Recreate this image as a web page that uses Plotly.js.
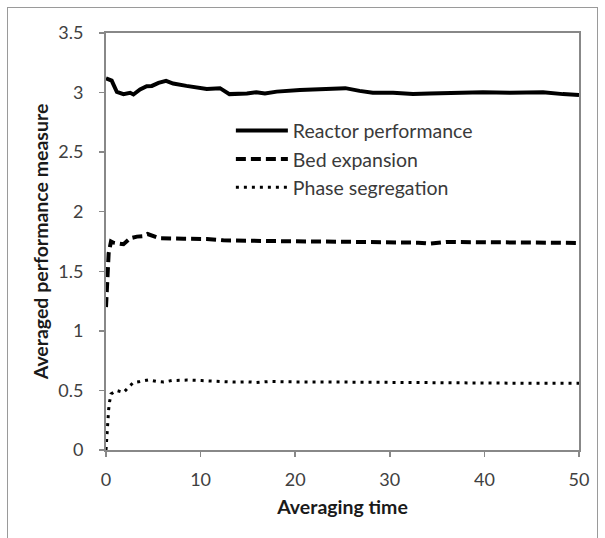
<!DOCTYPE html>
<html>
<head>
<meta charset="utf-8">
<script src="https://cdn.plot.ly/plotly-3.0.1.min.js"></script>
<style>
  html, body { margin: 0; padding: 0; background: #fff; }
  #wrap { position: relative; width: 605px; height: 538px; overflow: hidden; }
  #chart { width: 605px; height: 538px; }
  #frame { position: absolute; left: 7px; top: 7px; width: 591px; height: 540px;
           border: 1px solid #9a9a9a; pointer-events: none; box-sizing: border-box; }
</style>
</head>
<body>
<div id="wrap"><div id="chart"></div><div id="frame"></div></div>
<script>
const reactorX = [0, 0.6, 1.15, 1.85, 2.55, 2.9, 3.6, 4.3, 4.85, 5.55, 6.35, 7.1, 8.5, 9.6, 10.65, 12.05, 12.4, 13.05, 14.9, 15.9, 16.8, 18.05, 20.5, 23, 25.3, 26.8, 28.2, 30.35, 32.45, 34.2, 36.3, 39.85, 42.7, 46.2, 48.3, 50];
const reactorY = [3.12, 3.10, 3.005, 2.987, 2.998, 2.984, 3.026, 3.054, 3.056, 3.081, 3.098, 3.076, 3.056, 3.043, 3.031, 3.037, 3.02, 2.987, 2.992, 3.003, 2.992, 3.008, 3.022, 3.03, 3.037, 3.014, 2.998, 2.998, 2.987, 2.992, 2.998, 3.003, 2.998, 3.003, 2.987, 2.98];

const bedX = [0, 0.1, 0.28, 0.53, 0.8, 1.85, 2.55, 3.27, 3.97, 4.4, 5.0, 5.7, 8.2, 10.65, 12.4, 15.9, 19.1, 25, 30, 33, 34.2, 36, 40, 45, 50];
const bedY = [1.2, 1.455, 1.65, 1.75, 1.74, 1.727, 1.777, 1.791, 1.796, 1.813, 1.796, 1.777, 1.774, 1.771, 1.76, 1.752, 1.752, 1.748, 1.746, 1.74, 1.732, 1.746, 1.744, 1.74, 1.738];

const phaseX = [0, 0.1, 0.17, 0.21, 0.28, 0.38, 0.53, 1.1, 1.85, 2.4, 2.9, 3.6, 4.5, 5.4, 6.1, 6.95, 8.55, 10.1, 11.7, 13.5, 15, 15.9, 17.3, 19.1, 25, 30, 35, 40, 45, 50];
const phaseY = [0.0, 0.14, 0.21, 0.28, 0.34, 0.405, 0.47, 0.5, 0.483, 0.528, 0.567, 0.575, 0.589, 0.575, 0.57, 0.583, 0.587, 0.583, 0.578, 0.57, 0.572, 0.567, 0.575, 0.572, 0.57, 0.566, 0.562, 0.562, 0.56, 0.56];

const seriesNames = ["Reactor performance", "Bed expansion", "Phase segregation"];
const xTitle = "Averaging time";
const yTitle = "Averaged performance measure";

const FONT = "Lato, 'Open Sans', sans-serif";

const traces = [
  {x: reactorX, y: reactorY, name: seriesNames[0], mode: "lines",
   line: {color: "#000", width: 4}},
  {x: bedX, y: bedY, name: seriesNames[1], mode: "lines",
   line: {color: "#000", width: 4, dash: "10px,5px"}},
  {x: phaseX, y: phaseY, name: seriesNames[2], mode: "lines",
   line: {color: "#000", width: 3, dash: "3px,5px"}}
];

const layout = {
  width: 605, height: 538,
  margin: {l: 106, r: 25.5, t: 33, b: 87.5, pad: 0},
  paper_bgcolor: "#fff", plot_bgcolor: "#fff",
  font: {family: FONT, color: "#404040", size: 16},
  showlegend: true,
  legend: {x: 0.264, y: 0.812, xanchor: "left", yanchor: "top",
           bgcolor: "rgba(0,0,0,0)", borderwidth: 0,
           font: {family: FONT, size: 19.5, color: "#3a3a3a"},
           itemwidth: 52, tracegroupgap: 0},
  xaxis: {range: [0, 50], dtick: 10, tick0: 0, showgrid: false, zeroline: false,
          showline: true, linecolor: "#888", linewidth: 2, mirror: true,
          ticks: "outside", ticklen: 5, tickwidth: 1.5, tickcolor: "#888",
          ticklabelstandoff: 7,
          tickfont: {family: FONT, size: 18, color: "#404040"},
          title: {text: "<b>" + xTitle + "</b>", font: {family: FONT, size: 19.5, color: "#1a1a1a"}, standoff: 12}},
  yaxis: {range: [0, 3.5], dtick: 0.5, tick0: 0, showgrid: false, zeroline: false,
          showline: true, linecolor: "#888", linewidth: 2, mirror: true,
          ticks: "outside", ticklen: 5, tickwidth: 1.5, tickcolor: "#888",
          ticklabelstandoff: 12,
          tickfont: {family: FONT, size: 18, color: "#404040"},
          title: {text: "<b>" + yTitle + "</b>", font: {family: FONT, size: 19.5, color: "#1a1a1a"}, standoff: 4}}
};

Plotly.newPlot("chart", traces, layout, {staticPlot: true, displayModeBar: false});
</script>
</body>
</html>
